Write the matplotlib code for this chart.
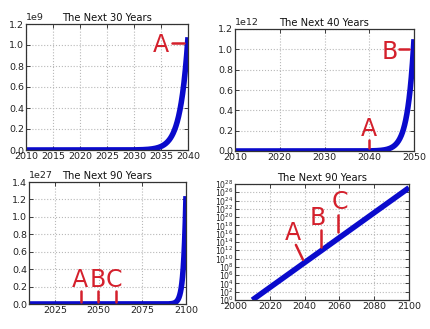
import numpy as np
import matplotlib
matplotlib.use("Agg")
import matplotlib.pyplot as plt

# Growth model: a quantity that doubles every year, starting at 1 in 2010
start_year = 2010
end_year = 2100
doubling_years = 1.0
years = np.linspace(start_year, end_year, 1801)
values = 2.0 ** ((years - start_year) / doubling_years)

titles = ["The Next 30 Years", "The Next 40 Years", "The Next 90 Years", "The Next 90 Years"]
x_ranges = [(2010, 2040), (2010, 2050), (2010, 2100), (2000, 2100)]
x_ticks = [list(range(2010, 2041, 5)), list(range(2010, 2051, 10)),
           [2025, 2050, 2075, 2100], list(range(2000, 2101, 20))]
y_ranges = [(0, 1.2e9), (0, 1.2e12), (0, 1.4e27), (1, 1e28)]
y_ticks = [np.arange(0, 1.21e9, 0.2e9), np.arange(0, 1.21e12, 0.2e12),
           np.arange(0, 1.41e27, 0.2e27), [10.0 ** k for k in range(0, 29, 2)]]
log_scale = [False, False, False, True]
data_end = [2040, 2050, 2100, 2100]

# axes boxes in pixels: left, right, top, bottom
W, H = 430, 329
boxes = [(26, 188, 24, 150), (235, 414, 29, 151), (29, 186, 182, 304), (235, 409, 184, 300)]

BLUE = "#0a0acc"
RED = "#d4202c"
FS = 6.8

fig = plt.figure(figsize=(W / 100, H / 100), dpi=100)
axes = []
for i, (l, r, t, b) in enumerate(boxes):
    ax = fig.add_axes([l / W, 1 - b / H, (r - l) / W, (b - t) / H])
    mask = years <= data_end[i]
    ax.plot(years[mask], values[mask], color=BLUE, lw=4.0, solid_capstyle="butt")
    if log_scale[i]:
        ax.set_yscale("log")
        ax.minorticks_off()
    ax.set_xlim(*x_ranges[i])
    ax.set_ylim(*y_ranges[i])
    ax.set_xticks(x_ticks[i])
    ax.set_yticks(y_ticks[i])
    ax.grid(True, color="#b8b8b8", linestyle=":", linewidth=0.8)
    ax.tick_params(direction="in", top=True, right=True, labelsize=FS,
                   length=3, width=0.6, pad=1.5, colors="#222222")
    if log_scale[i]:
        ax.tick_params(axis="y", labelsize=5.6, pad=1.0)
    ax.yaxis.get_offset_text().set_fontsize(FS)
    for s in ax.spines.values():
        s.set_linewidth(0.9)
        s.set_color("#333333")
    ax.set_title(titles[i], fontsize=7.2, pad=2, color="#111111")
    axes.append(ax)

txt = dict(color=RED, fontsize=17, ha="center", va="center", family="DejaVu Sans")
mark = dict(color=RED, lw=1.8, solid_capstyle="round")

# 30-year panel
a = axes[0]
a.text(2035.0, 1.0e9, "A", **txt)
a.plot([2037.0, 2039.2], [1.02e9, 1.02e9], **mark)

# 40-year panel
a = axes[1]
a.text(2044.6, 0.97e12, "B", **txt)
a.plot([2046.6, 2048.8], [1.0e12, 1.0e12], **mark)
a.text(2039.9, 0.22e12, "A", **txt)
a.plot([2040.0, 2040.0], [0.11e12, 0.03e12], **mark)

# 90-year panel, linear
a = axes[2]
for letter, xc, xt in [("A", 2039.2, 2039.8), ("B", 2049.6, 2049.6), ("C", 2058.6, 2059.9)]:
    a.text(xc, 0.275e27, letter, **txt)
    a.plot([xt, xt], [0.15e27, 0.02e27], **mark)

# 90-year panel, logarithmic
a = axes[3]
a.text(2033.3, 10 ** 16.2, "A", **txt)
a.plot([2035.0, 2039.1], [10 ** 13.3, 10 ** 9.7], **mark)
a.text(2047.7, 10 ** 19.8, "B", **txt)
a.plot([2049.4, 2049.4], [10 ** 16.9, 10 ** 12.8], **mark)
a.text(2060.3, 10 ** 23.7, "C", **txt)
a.plot([2059.2, 2059.2], [10 ** 20.5, 10 ** 16.4], **mark)

fig.savefig("out.png", dpi=100)
